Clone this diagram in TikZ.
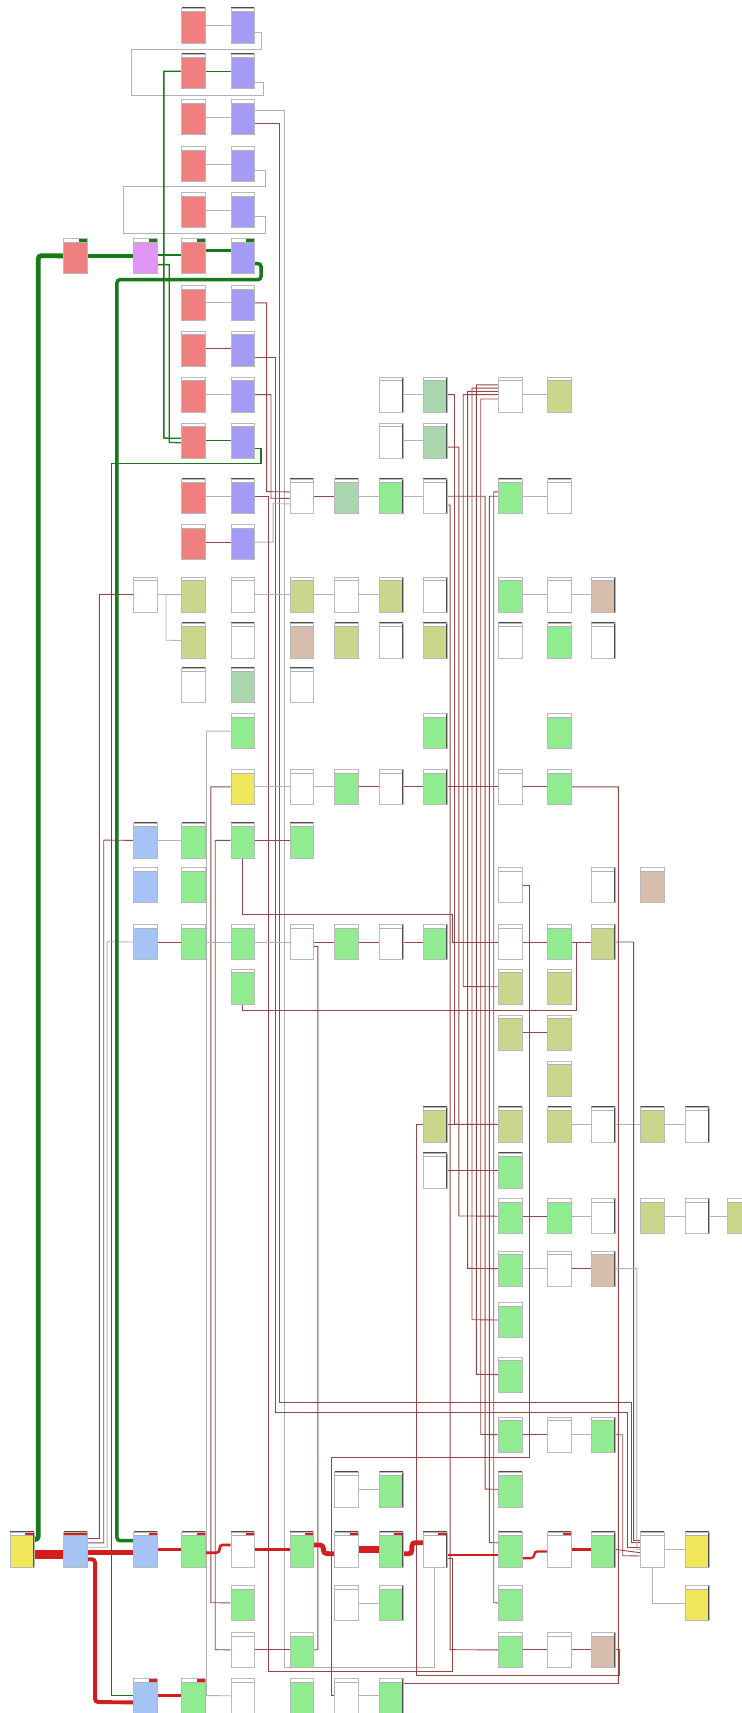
\documentclass[tikz,border=0pt]{standalone}
\usetikzlibrary{positioning}
\pgfdeclarelayer{bg}
\pgfsetlayers{bg,main}

\definecolor{redc}{RGB}{240,128,128}
\definecolor{purc}{RGB}{165,155,245}
\definecolor{vioc}{RGB}{225,150,245}
\definecolor{bluc}{RGB}{165,195,245}
\definecolor{grnc}{RGB}{145,235,145}
\definecolor{mntc}{RGB}{170,215,175}
\definecolor{olvc}{RGB}{200,215,140}
\definecolor{tanc}{RGB}{215,190,172}
\definecolor{yelc}{RGB}{240,232,90}
\definecolor{wirec}{RGB}{150,70,70}
\definecolor{gwirec}{RGB}{178,178,178}
\definecolor{hotred}{RGB}{212,30,30}
\definecolor{hotgrn}{RGB}{25,120,25}

\newcommand{\blkhead}[2]{%
  \fill[white] (path picture bounding box.north west) rectangle ([yshift=-1.6pt]path picture bounding box.north east);%
  \fill[#1] ([xshift=-#2]path picture bounding box.north east) rectangle ([yshift=-1.6pt]path picture bounding box.north east);%
  \draw[gray!60,line width=0.3pt] ([yshift=-1.6pt]path picture bounding box.north west) -- ([yshift=-1.6pt]path picture bounding box.north east);%
  \draw[black!70,line width=0.55pt] (path picture bounding box.north west) -- (path picture bounding box.north east) -- (path picture bounding box.south east);%
}

\tikzset{
  blk/.style={rectangle,anchor=north west,inner sep=0pt,minimum width=10.85pt,minimum height=16pt,
    fill=#1,draw=gray!55,line width=0.25pt,path picture={\blkhead{white}{0pt}}},
  blk/.default=white,
  hot/.style={path picture={\blkhead{#1}{4pt}}},
  hotall/.style={path picture={\blkhead{#1}{10.85pt}}},
  wire/.style={draw=wirec,line width=0.4pt},
  gwire/.style={draw=gwirec,line width=0.4pt},
  gthin/.style={draw=hotgrn,line width=0.6pt},
  gpath/.style={draw=hotgrn,rounded corners=1.5pt},
  rpath/.style={draw=hotred,rounded corners=1.5pt},
}

\begin{document}
\begin{tikzpicture}[x=0.5pt,y=-0.5pt]
\useasboundingbox (0,0) rectangle (679,1568);

% top group
\node[blk=redc] (d1) at (166,7) {};
\node[blk=purc] (e1) at (211,7) {};
\node[blk=redc] (d2) at (166,49) {};
\node[blk=purc] (e2) at (211,49) {};
\node[blk=redc] (d3) at (166,91) {};
\node[blk=purc] (e3) at (211,91) {};
\node[blk=redc] (d4) at (166,134) {};
\node[blk=purc] (e4) at (211,134) {};
\node[blk=redc] (d5) at (166,176) {};
\node[blk=purc] (e5) at (211,176) {};
\node[blk=redc,hot=hotgrn] (b6) at (58,218) {};
\node[blk=vioc,hot=hotgrn] (c6) at (122,218) {};
\node[blk=redc,hot=hotgrn] (d6) at (166,218) {};
\node[blk=purc,hot=hotgrn] (e6) at (211,218) {};
\node[blk=redc] (d7) at (166,261) {};
\node[blk=purc] (e7) at (211,261) {};
\node[blk=redc] (d8) at (166,303) {};
\node[blk=purc] (e8) at (211,303) {};
\node[blk=redc] (d9) at (166,345) {};
\node[blk=purc] (e9) at (211,345) {};
\node[blk] (h9) at (347,345) {};
\node[blk=mntc] (i9) at (387,345) {};
\node[blk] (j9) at (456,345) {};
\node[blk=olvc] (k9) at (501,345) {};
\node[blk=redc] (d10) at (166,387) {};
\node[blk=purc] (e10) at (211,387) {};
\node[blk] (h10) at (347,387) {};
\node[blk=mntc] (i10) at (387,387) {};
\node[blk=redc] (d11) at (166,438) {};
\node[blk=purc] (e11) at (211,438) {};
\node[blk] (f11) at (265,438) {};
\node[blk=mntc] (g11) at (306,438) {};
\node[blk=grnc] (h11) at (347,438) {};
\node[blk] (i11) at (387,438) {};
\node[blk=grnc] (j11) at (456,438) {};
\node[blk] (k11) at (501,438) {};
\node[blk=redc] (d12) at (166,480) {};
\node[blk=purc] (e12) at (211,480) {};

% middle group
\node[blk] (c13) at (122,528) {};
\node[blk=olvc] (d13) at (166,528) {};
\node[blk] (e13) at (211,528) {};
\node[blk=olvc] (f13) at (265,528) {};
\node[blk] (g13) at (306,528) {};
\node[blk=olvc] (h13) at (347,528) {};
\node[blk] (i13) at (387,528) {};
\node[blk=grnc] (j13) at (456,528) {};
\node[blk] (k13) at (501,528) {};
\node[blk=tanc] (l13) at (541,528) {};
\node[blk=olvc] (d14) at (166,570) {};
\node[blk] (e14) at (211,570) {};
\node[blk=tanc] (f14) at (265,570) {};
\node[blk=olvc] (g14) at (306,570) {};
\node[blk] (h14) at (347,570) {};
\node[blk=olvc] (i14) at (387,570) {};
\node[blk] (j14) at (456,570) {};
\node[blk=grnc] (k14) at (501,570) {};
\node[blk] (l14) at (541,570) {};
\node[blk] (d15) at (166,611) {};
\node[blk=mntc] (e15) at (211,611) {};
\node[blk] (f15) at (265,611) {};
\node[blk=grnc] (e16) at (211,653) {};
\node[blk=grnc] (i16) at (387,653) {};
\node[blk=grnc] (k16) at (501,653) {};
\node[blk=yelc] (e17) at (211,704) {};
\node[blk] (f17) at (265,704) {};
\node[blk=grnc] (g17) at (306,704) {};
\node[blk] (h17) at (347,704) {};
\node[blk=grnc] (i17) at (387,704) {};
\node[blk] (j17) at (456,704) {};
\node[blk=grnc] (k17) at (501,704) {};
\node[blk=bluc] (c18) at (122,753) {};
\node[blk=grnc] (d18) at (166,753) {};
\node[blk=grnc] (e18) at (211,753) {};
\node[blk=grnc] (f18) at (265,753) {};
\node[blk=bluc] (c19) at (122,794) {};
\node[blk=grnc] (d19) at (166,794) {};
\node[blk] (j19) at (456,794) {};
\node[blk] (l19) at (541,794) {};
\node[blk=tanc] (m19) at (586,794) {};
\node[blk=bluc] (c20) at (122,846) {};
\node[blk=grnc] (d20) at (166,846) {};
\node[blk=grnc] (e20) at (211,846) {};
\node[blk] (f20) at (265,846) {};
\node[blk=grnc] (g20) at (306,846) {};
\node[blk] (h20) at (347,846) {};
\node[blk=grnc] (i20) at (387,846) {};
\node[blk] (j20) at (456,846) {};
\node[blk=grnc] (k20) at (501,846) {};
\node[blk=olvc] (l20) at (541,846) {};
\node[blk=grnc] (e21) at (211,887) {};
\node[blk=olvc] (j21) at (456,887) {};
\node[blk=olvc] (k21) at (501,887) {};
\node[blk=olvc] (j22) at (456,929) {};
\node[blk=olvc] (k22) at (501,929) {};
\node[blk=olvc] (k23) at (501,971) {};
\node[blk=olvc] (i24) at (387,1013) {};
\node[blk=olvc] (j24) at (456,1013) {};
\node[blk=olvc] (k24) at (501,1013) {};
\node[blk] (l24) at (541,1013) {};
\node[blk=olvc] (m24) at (586,1013) {};
\node[blk] (n24) at (627,1013) {};
\node[blk] (i25) at (387,1055) {};
\node[blk=grnc] (j25) at (456,1055) {};
\node[blk=grnc] (j26) at (456,1097) {};
\node[blk=grnc] (k26) at (501,1097) {};
\node[blk] (l26) at (541,1097) {};
\node[blk=olvc] (m26) at (586,1097) {};
\node[blk] (n26) at (627,1097) {};
\node[blk=olvc] (o26) at (665,1097) {};
\node[blk=grnc] (j27) at (456,1145) {};
\node[blk] (k27) at (501,1145) {};
\node[blk=tanc] (l27) at (541,1145) {};
\node[blk=grnc] (j28) at (456,1192) {};
\node[blk=grnc] (j29) at (456,1242) {};
\node[blk=grnc] (j30) at (456,1297) {};
\node[blk] (k30) at (501,1297) {};
\node[blk=grnc] (l30) at (541,1297) {};

% bottom group
\node[blk] (g31) at (306,1347) {};
\node[blk=grnc] (h31) at (347,1347) {};
\node[blk=grnc] (j31) at (456,1347) {};
\node[blk=yelc,hot=hotred] (a32) at (9,1402) {};
\node[blk=bluc,hotall=hotred] (b32) at (58,1402) {};
\node[blk=bluc,hot=hotred] (c32) at (122,1402) {};
\node[blk=grnc,hot=hotred] (d32) at (166,1402) {};
\node[blk,hot=hotred] (e32) at (211,1402) {};
\node[blk=grnc,hot=hotred] (f32) at (265,1402) {};
\node[blk,hot=hotred] (g32) at (306,1402) {};
\node[blk=grnc,hot=hotred] (h32) at (347,1402) {};
\node[blk,hot=hotred] (i32) at (387,1402) {};
\node[blk=grnc] (j32) at (456,1402) {};
\node[blk,hot=hotred] (k32) at (501,1402) {};
\node[blk=grnc] (l32) at (541,1402) {};
\node[blk] (m32) at (586,1402) {};
\node[blk=yelc] (n32) at (627,1402) {};
\node[blk=grnc] (e33) at (211,1451) {};
\node[blk] (g33) at (306,1451) {};
\node[blk=grnc] (h33) at (347,1451) {};
\node[blk=grnc] (j33) at (456,1451) {};
\node[blk=yelc] (n33) at (627,1451) {};
\node[blk] (e34) at (211,1494) {};
\node[blk=grnc] (f34) at (265,1494) {};
\node[blk=grnc] (j34) at (456,1494) {};
\node[blk] (k34) at (501,1494) {};
\node[blk=tanc] (l34) at (541,1494) {};
\node[blk=bluc,hot=hotred] (c35) at (122,1536) {};
\node[blk=grnc,hot=hotred] (d35) at (166,1536) {};
\node[blk] (e35) at (211,1536) {};
\node[blk=grnc] (f35) at (265,1536) {};
\node[blk] (g35) at (306,1536) {};
\node[blk=grnc] (h35) at (347,1536) {};

\begin{pgfonlayer}{bg}
\fill[white] (0,0) rectangle (679,1568);

% top group links
\draw[gwire] (d1.east) -- (e1.west);
\draw[gthin,line width=0.5pt] (d2.east) -- (e2.west);
\draw[gwire] (d3.east) -- (e3.west);
\draw[gwire] (d4.east) -- (e4.west);
\draw[gwire] (d5.east) -- (e5.west);
\draw[gwire] (d7.east) -- (e7.west);
\draw[wire] (d8.east) -- (e8.west);
\draw[gwire] (d9.east) -- (e9.west);
\draw[gthin,line width=0.5pt] (d10.east) -- (e10.west);
\draw[gwire] (d11.east) -- (e11.west);
\draw[wire] (d12.east) -- (e12.west);
\draw[gwire] ([yshift=-3pt]e1.east) -| (239,45) -- (120,45) -- (120,87) -- (241,87) |- ([yshift=-5pt]e2.east);
\draw[gwire] ([yshift=-3pt]e4.east) -| (243,171) -- (113,171) -- (113,214) -- (243,214) |- ([yshift=-3pt]e5.east);
\draw[gthin] (d2.west) -| (150,401) -- ([yshift=1pt]d10.west);
\draw[gthin] ([yshift=-4pt]c6.east) -| (155,405) -- ([yshift=-1pt]d10.west);
\draw[gthin] ([yshift=-3.5pt]e10.east) -| (239,424) -- (102,424) |- (c35.west);

% long lines out of the top group
\draw[gwire] ([yshift=3pt]e3.east) -| (260,1526) -| (i32.south);
\draw[wire] ([yshift=-3pt]e3.east) -| (256,1284) -- (578,1284) |- ([yshift=3pt]m32.west);
\draw[wire] ([yshift=-4pt]e8.east) -| (252,1293) -- (574,1293) |- ([yshift=1pt]m32.west);
\draw[wire] (e7.east) -| (244,450) -- ([yshift=2pt]f11.west);
\draw[wire] (e9.east) -| (248,456) -- ([yshift=-1pt]f11.west);
\draw[gwire] (e12.east) -| (250,461) -- ([yshift=-3.5pt]f11.west);
\draw[wire] (e11.east) -| (246,1530) -- (414,1530) |- ([yshift=-4pt]i32.east);

% left side
\draw[wire] ([yshift=5pt]b32.east) -| (91,544) -- (c13.west);
\draw[wire] ([yshift=3pt]b32.east) -| (95,769) -- (c18.west);
\draw[gwire] ([yshift=1pt]b32.east) -| (98,862) -- (c20.west);
\draw[gwire] (c13.east) -- (d13.west);
\draw[gwire] (d13.west) -| (152,586) -- (d14.west);
\draw[wire] (e17.west) -| (193,1467) -- (e33.west);
\draw[wire] (e18.west) -| (197,1510) -- (e34.west);
\draw[gwire] (e16.west) -| (189,1552) -- (e35.west);
\draw[wire] (e18.south) |- (414,837) |- (j20.west);
\draw[wire] (e21.south) |- (528,925) |- (k20.east);
\draw[wire] ([yshift=-2pt]f20.east) -| (291,1510) -- (f34.east);

% row links
\draw[gwire] (h9.east) -- (i9.west);
\draw[gwire] (j9.east) -- (k9.west);
\draw[gwire] (h10.east) -- (i10.west);
\draw[wire] (f11.east) -- (g11.west);
\draw[gwire] (g11.east) -- (h11.west);
\draw[gwire] (h11.east) -- (i11.west);
\draw[gwire] (j11.east) -- (k11.west);
\draw[gwire] (e13.east) -- (f13.west);
\draw[gwire] (f13.east) -- (g13.west);
\draw[gwire] (g13.east) -- (h13.west);
\draw[gwire] (j13.east) -- (k13.west);
\draw[gwire] (k13.east) -- (l13.west);
\draw[gwire] (e17.east) -- (f17.west);
\draw[gwire] (f17.east) -- (g17.west);
\draw[wire] (g17.east) -- (h17.west);
\draw[wire] (h17.east) -- (i17.west);
\draw[wire] (i17.east) -- (j17.west);
\draw[wire] (j17.east) -- (k17.west);
\draw[gwire] (c18.east) -- (d18.west);
\draw[wire] (e18.east) -- (f18.west);
\draw[wire] (c20.east) -- (d20.west);
\draw[gwire] (d20.east) -- (e20.west);
\draw[gwire] (e20.east) -- (f20.west);
\draw[wire] (f20.east) -- (g20.west);
\draw[wire] (g20.east) -- (h20.west);
\draw[wire] (h20.east) -- (i20.west);
\draw[wire] (j20.east) -- (k20.west);
\draw[wire] (k20.east) -- (l20.west);
\draw[wire] (j22.east) -- (k22.west);
\draw[wire] (i24.east) -- (j24.west);
\draw[gwire] (k24.east) -- (l24.west);
\draw[gwire] (l24.east) -- (m24.west);
\draw[gwire] (m24.east) -- (n24.west);
\draw[wire] (i25.east) -- (j25.west);
\draw[wire] (j26.east) -- (k26.west);
\draw[gwire] (k26.east) -- (l26.west);
\draw[gwire] (m26.east) -- (n26.west);
\draw[gwire] (n26.east) -- (o26.west);
\draw[gwire] (j27.east) -- (k27.west);
\draw[wire] (k27.east) -- (l27.west);
\draw[wire] (j30.east) -- (k30.west);
\draw[gwire] (k30.east) -- (l30.west);
\draw[gwire] (g31.east) -- (h31.west);
\draw[gwire] (g33.east) -- (h33.west);
\draw[wire] (e34.east) -- (f34.west);
\draw[wire] (j34.east) -- (k34.west);
\draw[wire] (k34.east) -- (l34.west);
\draw[gwire] (g35.east) -- (h35.west);
\draw[gwire] (m32.east) -- (n32.west);
\draw[gwire] (m32.south) |- (n33.west);

% bundle into the J column
\draw[wire] (i9.east) -| (416,1029) -- (j24.west);
\draw[wire] ([yshift=-3pt]i10.east) -| (420,1113) -- (j26.west);
\draw[wire] (j9.west) -| (424,903) -- (j21.west);
\draw[wire] ([yshift=1.5pt]j9.west) -| (428,1161) -- (j27.west);
\draw[wire] ([yshift=3pt]j9.west) -| (432,1208) -- (j28.west);
\draw[wire] ([yshift=4.5pt]j9.west) -| (436,1258) -- (j29.west);
\draw[wire] ([yshift=-2pt]j9.west) -| (440,1313) -- (j30.west);
\draw[wire] (i11.east) -| (444,1363) -- (j31.west);
\draw[wire] (j11.west) -| (448,1412) -- ([yshift=3pt]j32.west);
\draw[wire] ([yshift=2pt]j11.west) -| (452,1467) -- (j33.west);
\draw[wire] ([yshift=-4pt]i11.east) -| (412,1510) -- (j34.west);
\draw[wire] (i24.west) -| (381,1534) -- (567,1534) |- (l34.east);
\draw[wire] (j19.east) -| (485,1334) -- (303,1334) |- (g35.west);
\draw[wire] (k17.east) -| (566,1541) -- (358,1541) -- (h35.north);

% bundle into M32
\draw[wire] (l20.east) -| (580,1410) -- ([yshift=4pt]m32.west);
\draw[gwire] (l27.east) -| (583,1418) -- (m32.west);
\draw[wire] (l30.east) -| (570,1424) -- ([yshift=-3pt]m32.west);
\draw[wire] (l32.east) -- ([yshift=-1.5pt]m32.west);

% green path
\draw[gpath,line width=2.2pt] ([yshift=4.5pt]a32.east) -| (35,234) -- (b6.west);
\draw[gpath,line width=2.2pt] (b6.east) -- (c6.west);
\draw[gpath,line width=1.2pt] ([yshift=0.5pt]c6.east) -- ([yshift=0.5pt]d6.west);
\draw[gpath,line width=1.6pt] ([yshift=2.5pt]d6.east) -- ([yshift=2.5pt]e6.west);
\draw[gpath,line width=1.6pt] ([yshift=-3.5pt]e6.east) -| (239,256) -- (107,256) |- ([yshift=4pt]c32.west);

% red path
\draw[rpath,line width=4.2pt] ([yshift=-2.5pt]a32.east) -- ([yshift=-2.5pt]b32.west);
\draw[rpath,line width=2.2pt] ([yshift=-1.5pt]b32.east) -- ([yshift=-1.5pt]c32.west);
\draw[rpath,line width=1.8pt] ([yshift=-4.5pt]b32.east) -| (87,1558) -- ([yshift=-3pt]c35.west);
\draw[rpath,line width=1.4pt] (c32.east) -- (d32.west);
\draw[rpath,line width=1.4pt] (c35.east) -- (d35.west);
\draw[rpath,line width=1.2pt] ([yshift=-1.5pt]d32.east) -| (201,1414) -- ([yshift=2pt]e32.west);
\draw[rpath,line width=1.5pt] (e32.east) -- (f32.west);
\draw[rpath,line width=2.2pt] ([yshift=2pt]f32.east) -| (296,1422) -- ([yshift=-2pt]g32.west);
\draw[rpath,line width=3pt] (g32.east) -- (h32.west);
\draw[rpath,line width=2.2pt] ([yshift=-2pt]h32.east) -| (377,1412) -- ([yshift=3pt]i32.west);
\draw[rpath,line width=1.1pt] ([yshift=-2.5pt]i32.east) -- ([yshift=-2.5pt]j32.west);
\draw[rpath,line width=1pt] ([yshift=-4pt]j32.east) -| (489,1420) -- ([yshift=-1pt]k32.west);
\draw[rpath,line width=1.1pt] (k32.east) -- (l32.west);
\end{pgfonlayer}

\end{tikzpicture}
\end{document}
